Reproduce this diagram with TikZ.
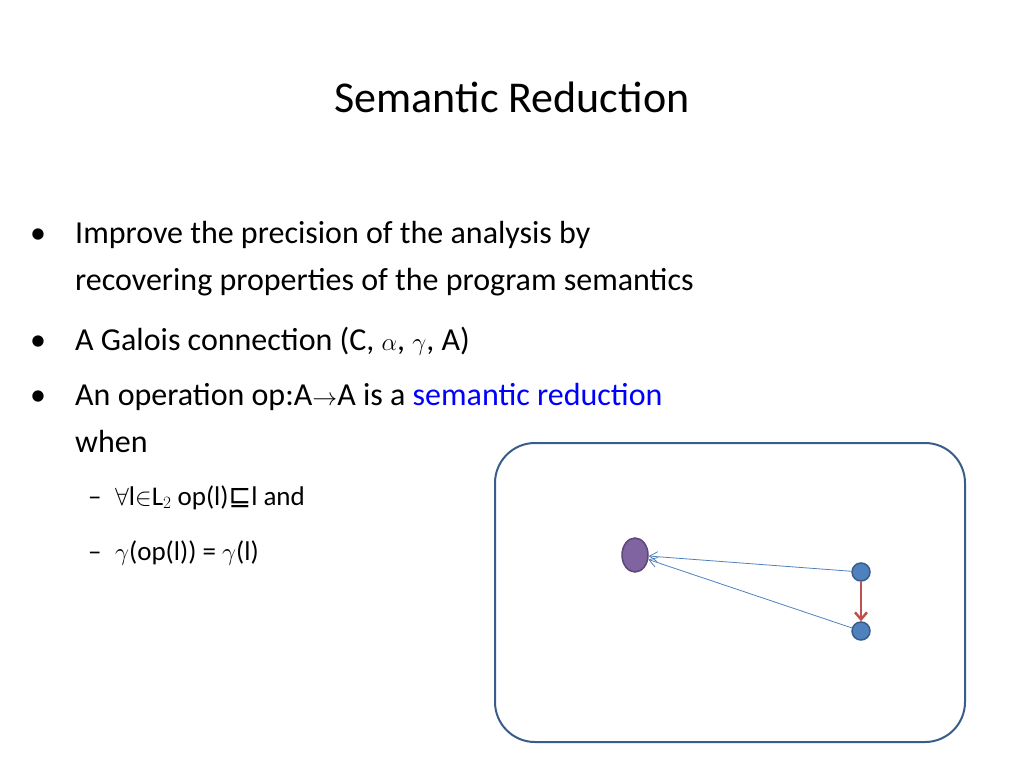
\documentclass[tikz,border=0pt]{standalone}
\usepackage{fontspec}
\setmainfont{Carlito}
\newfontfamily\symfont{DejaVu Sans}
\usetikzlibrary{arrows.meta,shapes.geometric}
\definecolor{dotblue}{HTML}{4F81BD}
\definecolor{dotedge}{HTML}{385D8A}
\definecolor{blobfill}{HTML}{8064A2}
\definecolor{blobedge}{HTML}{5C4776}
\definecolor{redarrow}{HTML}{C0504D}
\definecolor{boxedge}{HTML}{385D8A}
\begin{document}
\begin{tikzpicture}[x=1pt,y=-1pt,
    txt/.style={anchor=base west,inner sep=0pt,font=\fontsize{32}{38}\selectfont},
    subtxt/.style={anchor=base west,inner sep=0pt,font=\fontsize{27}{32}\selectfont},
    dot/.style={circle,draw=dotedge,fill=dotblue,line width=1.5pt,minimum size=18pt,inner sep=0pt}]
    \useasboundingbox (0,0) rectangle (1024,768);
    \node (title) at (512,97) {\fontsize{44}{52}\selectfont Semantic Reduction};
    \node[txt] (b1) at (30,243) {\textbullet};
    \node[txt] (l1) at (75,243) {Improve the precision of the analysis by};
    \node[txt] (l2) at (75,290) {recovering properties of the program semantics};
    \node[txt] (b2) at (30,350) {\textbullet};
    \node[txt] (l3) at (75,350) {A Galois connection (C, $\alpha$, $\gamma$, A)};
    \node[txt] (b3) at (30,405) {\textbullet};
    \node[txt] (l4) at (75,405) {An operation op:A$\rightarrow$A is a \textcolor{blue}{semantic reduction}};
    \node[txt] (l5) at (75,452) {when};
    \node[subtxt] (s1) at (88,505) {--\enspace$\forall$l$\in$L$_2$ op(l){\symfont ⊑}l and};
    \node[subtxt] (s2) at (88,560) {--\enspace$\gamma$(op(l)) = $\gamma$(l)};
    % diagram
    \draw[boxedge,line width=2pt,rounded corners=40] (495,443) rectangle (965,742);
    \node[ellipse,draw=blobedge,fill=blobfill,line width=1.5pt,minimum width=26pt,minimum height=34pt,inner sep=0pt] (blob) at (635,555) {};
    \node[dot] (top) at (861,572) {};
    \node[dot] (bot) at (861,631) {};
    \draw[dotblue,line width=0.8pt,-{Straight Barb[length=8pt,width=10pt]}] (top) -- (blob);
    \draw[dotblue,line width=0.8pt,-{Straight Barb[length=8pt,width=10pt]}] (bot) -- (blob);
    \draw[redarrow,line width=2.5pt,-{Straight Barb[length=7pt,width=12pt]}] (top) -- (bot);
\end{tikzpicture}
\end{document}
